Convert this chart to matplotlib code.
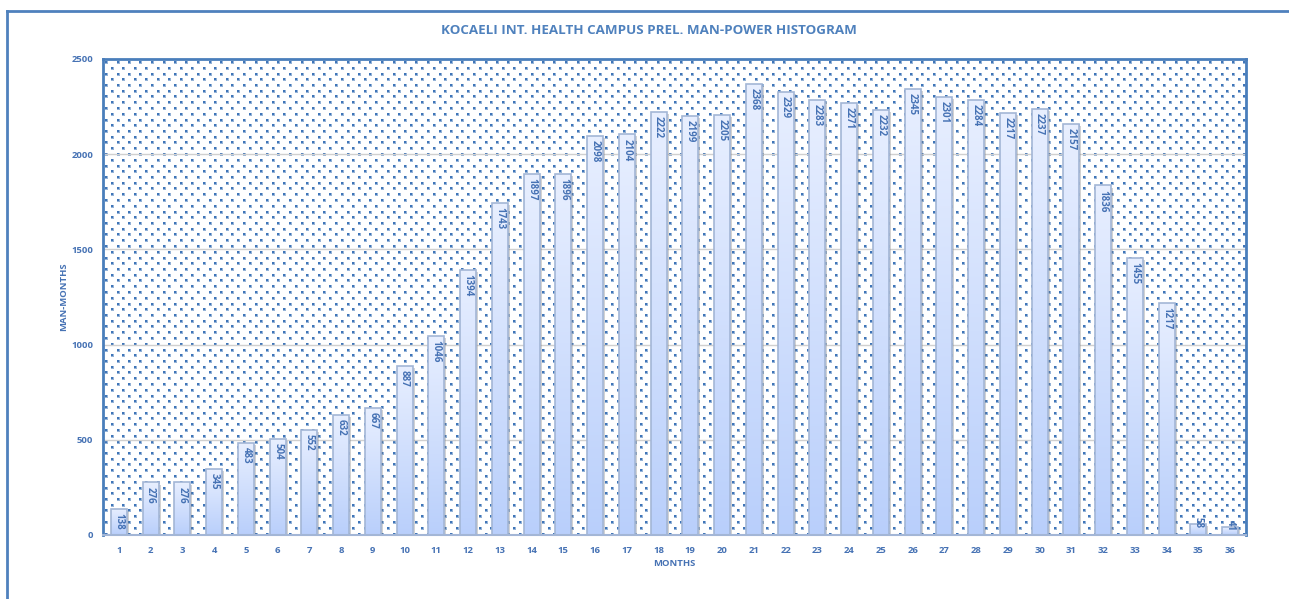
import numpy as np
import matplotlib
matplotlib.use("Agg")
import matplotlib.pyplot as plt
from matplotlib.lines import Line2D
import matplotlib.patheffects as pe

months = [str(i) for i in range(1, 37)]
manpower = [138, 276, 276, 345, 483, 504, 552, 632, 667, 887, 1046, 1394,
            1743, 1897, 1896, 2098, 2104, 2222, 2199, 2205, 2368, 2329, 2283, 2271,
            2232, 2345, 2301, 2284, 2217, 2237, 2157, 1836, 1455, 1217, 58, 41]
yticks = [0, 500, 1000, 1500, 2000, 2500]

title = "KOCAELI INT. HEALTH CAMPUS PREL. MAN-POWER HISTOGRAM"
xlabel = "MONTHS"
ylabel = "MAN-MONTHS"

BLUE = "#4a7ebb"
TXT = "#4672b4"
plt.rcParams['font.family'] = ['Open Sans', 'DejaVu Sans']
plt.rcParams['font.weight'] = 'bold'

W, H, DPI = 1289, 599, 100
fig = plt.figure(figsize=(W / DPI, H / DPI), dpi=DPI)
L, R, T, B = 103, 1246, 59, 535
ax = fig.add_axes([L / W, (H - B) / H, (R - L) / W, (B - T) / H])

x = np.arange(len(months))
ax.set_xlim(-0.5, len(months) - 0.5)
ax.set_ylim(0, 2500)

# dotted background pattern
pw, ph = R - L, B - T
img = np.ones((ph, pw, 4))
c = np.array(matplotlib.colors.to_rgb("#3f75b8"))
halo = 0.55 * c + 0.45 * np.ones(3)
j = 0
yy = 2.0
while yy < ph - 1:
    off = 5.75 if j % 2 else 0.0
    xx = 2.0 + off
    while xx < pw - 1:
        xi, yi = int(round(xx)), int(round(yy))
        img[yi:yi + 3, xi:xi + 3, :3] = halo
        img[yi:yi + 2, xi:xi + 2, :3] = c
        xx += 11.5
    yy += 5.75
    j += 1
ax.imshow(img, extent=(-0.5, len(months) - 0.5, 0, 2500), aspect='auto',
          interpolation='nearest', zorder=0, origin='upper')

for yv in yticks[1:-1]:
    ax.axhline(yv, color="#d0d0d0", lw=1.0, zorder=1)

width = 0.5
bars = ax.bar(x, manpower, width=width, color="#cfdfff", edgecolor="none", zorder=2,
              path_effects=[pe.SimplePatchShadow(offset=(1.5, -1.5), shadow_rgbFace="#808080", alpha=0.35),
                            pe.Normal()])
grad = np.linspace(0, 1, 256).reshape(-1, 1)
top_c = np.array(matplotlib.colors.to_rgb("#e8efff"))
bot_c = np.array(matplotlib.colors.to_rgb("#b9cffb"))
gimg = top_c[None, None, :] * (1 - grad[:, :, None]) + bot_c[None, None, :] * grad[:, :, None]
for b in bars:
    bx, bw, bh = b.get_x(), b.get_width(), b.get_height()
    im = ax.imshow(gimg, extent=(bx, bx + bw, 0, bh), aspect='auto', zorder=3,
                   origin='upper', interpolation='bilinear')
    im.set_clip_path(b)
ax.bar(x, manpower, width=width, color="none", edgecolor="#a3b6d6", lw=1.2, zorder=4)

for xi, v in zip(x, manpower):
    if v > 100:
        ax.annotate(str(v), (xi, v), xytext=(0, -3), textcoords='offset points',
                    ha='center', va='top', rotation=-90, fontsize=7, color=TXT,
                    fontweight='bold', zorder=5)
    else:
        ax.annotate(str(v), (xi, v), xytext=(0, 1), textcoords='offset points',
                    ha='center', va='center', rotation=-90, fontsize=7, color=TXT,
                    fontweight='bold', zorder=5)

ax.set_xticks(x)
ax.set_xticklabels(months)
ax.set_yticks(yticks)
ax.tick_params(axis='both', length=0, labelsize=6.8, labelcolor=TXT)
for lab in ax.get_xticklabels() + ax.get_yticklabels():
    lab.set_fontweight('bold')
ax.tick_params(axis='x', pad=8)
ax.tick_params(axis='y', pad=7)
for s in ['top', 'right', 'left']:
    ax.spines[s].set_color(BLUE)
    ax.spines[s].set_linewidth(2)
ax.spines['bottom'].set_color("#a3b6d6")
ax.spines['bottom'].set_linewidth(1.5)
for s in ax.spines.values():
    s.set_zorder(6)

fig.text(649 / W, 1 - 31 / H, title, ha='center', va='center', fontsize=9.6,
         color="#4f81bd", fontweight='bold')
fig.text(674 / W, 1 - 564 / H, xlabel, ha='center', va='center', fontsize=6.8,
         color=TXT, fontweight='bold')
fig.text(64 / W, 1 - 297 / H, ylabel, ha='center', va='center', fontsize=6.8,
         color=TXT, fontweight='bold', rotation=90)

# outer frame
fig.add_artist(Line2D([7 / W, 1.0], [1 - 11 / H, 1 - 11 / H], color="#4f81bd", lw=2))
fig.add_artist(Line2D([7 / W, 7 / W], [1 - 11 / H, 0], color="#4f81bd", lw=2))

fig.savefig("out.png", dpi=DPI)
